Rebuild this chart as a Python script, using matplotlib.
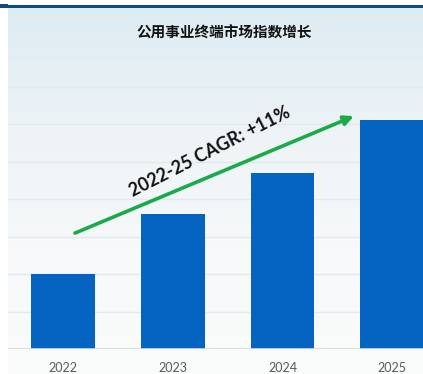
import numpy as np
import matplotlib
matplotlib.use('Agg')
import matplotlib.pyplot as plt
from matplotlib.colors import LinearSegmentedColormap
import matplotlib.patches as patches

plt.rcParams['font.family'] = ['Lato', 'Noto Sans CJK SC', 'DejaVu Sans']

# Index values per year (grid step = 1)
years = ['2022', '2023', '2024', '2025']
index_values = [2.0, 3.6, 4.7, 6.1]
title = '公用事业终端市场指数增长'
cagr_label = '2022-25 CAGR: +11%'

W, H = 423, 374
fig = plt.figure(figsize=(W / 100, H / 100), dpi=100)
fig.patch.set_facecolor('white')

# Panel background: light blue fading to near white
bg = fig.add_axes([8 / W, 0, (W - 8) / W, (H - 7) / H], zorder=0)
grad = LinearSegmentedColormap.from_list('bg', ['#ddecf3', '#edf3f6', '#f7f9fa', '#fafbfb'])
bg.imshow(np.linspace(0, 1, 256).reshape(-1, 1), aspect='auto', cmap=grad,
          extent=[0, 1, 0, 1], origin='upper')
bg.axis('off')

# Dark rule along the top edge
fig.add_artist(patches.Rectangle((0, (H - 7.5) / H), 1, 2 / H, transform=fig.transFigure,
                                 facecolor='#0f4d78', edgecolor='none', zorder=5))
fig.add_artist(patches.Rectangle((0, (H - 8) / H), 8 / W, 3.5 / H, transform=fig.transFigure,
                                 facecolor='#0f4d78', edgecolor='none', zorder=5))

ax = fig.add_axes([8 / W, (H - 349) / H, (W - 8) / W, (349 - 7) / H], zorder=1)
ax.patch.set_alpha(0)

x = np.arange(len(years))
ax.bar(x, index_values, width=0.58, color='#0563c1', zorder=3)

# Light horizontal grid
for g in range(1, 8):
    ax.axhline(g, color='#e2e8ec', linewidth=1, zorder=1)
ax.axhline(0, color='#d9d9d9', linewidth=1.2, zorder=4)

ax.set_xlim(-0.5, 3.28)
ax.set_ylim(0, (349 - 7) / 37.5)
ax.set_xticks(x)
ax.set_xticklabels(years, fontsize=9, color='#595959')
ax.tick_params(axis='x', length=0, pad=9)
ax.set_yticks([])
for s in ax.spines.values():
    s.set_visible(False)

# CAGR arrow with label
ax.annotate('', xy=(2.65, 6.21), xytext=(0.11, 3.09),
            arrowprops=dict(arrowstyle='-|>', color='#1aaa4a', lw=2.6,
                            mutation_scale=14, shrinkA=0, shrinkB=0), zorder=5)
ax.text(1.34, 5.25, cagr_label, rotation=27, rotation_mode='anchor',
        ha='center', va='center', fontsize=13, fontweight='bold', color='#111111', zorder=6)

fig.text(224 / W, 1 - 33 / H, title, family=['Noto Sans CJK SC', 'DejaVu Sans'],
         fontsize=10.5, fontweight='bold', ha='center', va='center', color='#111111')

fig.savefig('out.png', dpi=100)
